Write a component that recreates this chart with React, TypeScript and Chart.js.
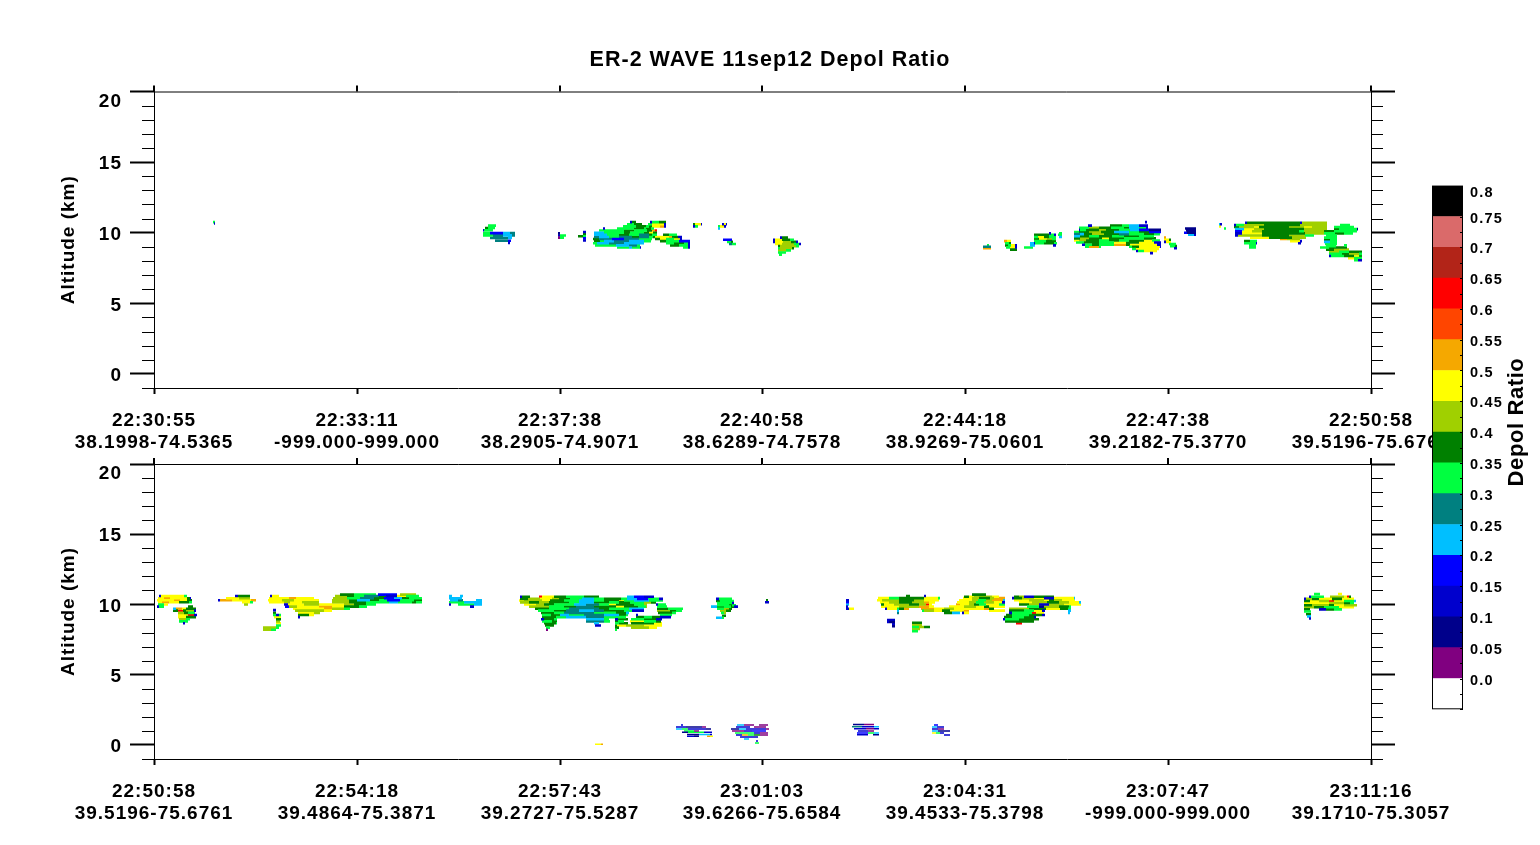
import React, { useEffect, useRef } from "react";
import { Chart, registerables } from "chart.js";

Chart.register(...registerables);

const FONT = "'Liberation Sans', Arial, sans-serif";

const chartTitle = "ER-2 WAVE 11sep12 Depol Ratio";
const colorbarTitle = "Depol Ratio";
const altitudeTitle = "Altitude (km)";

const binColors = ["#ffffff", "#800080", "#00008b", "#0000cd", "#0000ff", "#00bfff", "#008080", "#00ff40", "#008000", "#a0d000", "#ffff00", "#f5a800", "#ff4500", "#ff0000", "#b22418", "#da6a6a", "#000000"];
const binLower = [-0.05, 0, 0.05, 0.1, 0.15, 0.2, 0.25, 0.3, 0.35, 0.4, 0.45, 0.5, 0.55, 0.6, 0.65, 0.7, 0.75];
const binUpper = [0, 0.05, 0.1, 0.15, 0.2, 0.25, 0.3, 0.35, 0.4, 0.45, 0.5, 0.55, 0.6, 0.65, 0.7, 0.75, 0.8];
const colorTickValues = [0, 0.05, 0.1, 0.15, 0.2, 0.25, 0.3, 0.35, 0.4, 0.45, 0.5, 0.55, 0.6, 0.65, 0.7, 0.75, 0.8];
const colorTickLabels = ["0.0", "0.05", "0.1", "0.15", "0.2", "0.25", "0.3", "0.35", "0.4", "0.45", "0.5", "0.55", "0.6", "0.65", "0.7", "0.75", "0.8"];

const profileTicks = [0, 203, 406, 608, 811, 1014, 1217];
const altitudeTicks = [0, 5, 10, 15, 20];
const altitudeMinor = [-1, 1, 2, 3, 4, 6, 7, 8, 9, 11, 12, 13, 14, 16, 17, 18, 19];

const topTimes = ["22:30:55", "22:33:11", "22:37:38", "22:40:58", "22:44:18", "22:47:38", "22:50:58"];
const topCoords = ["38.1998-74.5365", "-999.000-999.000", "38.2905-74.9071", "38.6289-74.7578", "38.9269-75.0601", "39.2182-75.3770", "39.5196-75.6761"];
const bottomTimes = ["22:50:58", "22:54:18", "22:57:43", "23:01:03", "23:04:31", "23:07:47", "23:11:16"];
const bottomCoords = ["39.5196-75.6761", "39.4864-75.3871", "39.2727-75.5287", "39.6266-75.6584", "39.4533-75.3798", "-999.000-999.000", "39.1710-75.3057"];

// Each row: altitude km, then profile, bin, profile, bin, ... profile.
const topRowsWest = [
  [10.75, 59, 7, 61], [10.65, 60, 3, 61],
  [10.5, 334, 7, 342], [10.33, 331, 8, 334, 7, 341], [10.17, 329, 3, 330, 7, 339],
  [9.97, 329, 7, 336, 4, 349, 5, 356, 6, 361], [9.81, 329, 7, 339, 6, 349, 5, 358, 6, 361],
  [9.62, 336, 6, 354, 5, 358], [9.43, 341, 6, 354, 4, 357], [9.27, 354, 3, 356],
  [9.95, 404, 2, 406], [9.8, 404, 3, 406, 7, 412], [9.65, 404, 1, 406, 7, 410],
  [10.05, 429, 3, 432], [9.9, 429, 8, 432], [9.75, 424, 8, 429, 7, 432], [9.6, 429, 4, 432], [9.45, 429, 3, 432],
  [10.75, 476, 3, 478, 8, 482], [10.75, 496, 3, 498, 7, 505, 8, 512],
  [10.6, 473, 7, 480, 8, 488], [10.6, 494, 7, 498, 10, 510, 3, 512],
  [10.45, 469, 7, 482, 8, 492, 7, 495, 8, 498, 10, 506, 11, 510, 3, 512],
  [10.3, 449, 3, 451], [10.3, 463, 7, 480, 8, 490, 7, 492, 8, 497, 7, 500],
  [10.15, 445, 7, 470, 8, 480, 7, 493, 8, 498, 11, 501, 13, 503],
  [10.0, 440, 5, 450, 7, 470, 8, 476, 7, 490, 8, 495, 10, 499, 8, 503],
  [9.85, 440, 5, 453, 7, 465, 8, 475, 7, 485, 6, 495, 8, 498, 7, 503], [9.85, 509, 8, 515, 7, 523],
  [9.7, 440, 6, 445, 5, 455, 7, 465, 6, 478, 8, 485, 6, 495, 7, 499], [9.7, 499, 8, 501, 10, 515, 11, 518, 8, 524, 3, 528],
  [9.55, 439, 8, 445, 6, 458, 4, 470, 6, 485, 7, 498], [9.55, 501, 8, 506, 10, 512, 7, 520, 10, 526, 3, 528],
  [9.4, 440, 8, 446, 7, 450, 5, 460, 6, 475, 5, 490, 7, 497], [9.4, 506, 8, 512, 7, 525, 4, 536],
  [9.25, 439, 7, 443, 5, 455, 6, 470, 5, 490], [9.25, 512, 7, 520, 8, 530, 7, 534, 3, 536],
  [9.1, 441, 7, 462, 5, 475, 6, 483, 7, 486], [9.1, 516, 8, 525, 7, 534, 3, 536],
  [8.95, 463, 7, 475, 5, 478, 7, 486, 3, 487], [8.95, 529, 7, 534, 3, 536],
  [10.6, 539, 8, 541, 10, 547, 3, 548], [10.45, 539, 3, 541, 7, 544],
  [10.6, 568, 3, 570, 10, 572, 3, 573], [10.45, 564, 7, 566, 10, 570, 3, 572], [10.3, 564, 5, 566],
  [9.5, 569, 4, 578], [9.35, 573, 7, 577, 8, 579], [9.2, 575, 6, 578, 7, 582],
  [9.65, 626, 3, 628, 8, 634], [9.5, 619, 3, 621, 10, 628, 8, 636, 7, 640], [9.35, 619, 3, 621, 10, 629, 9, 637, 8, 642, 3, 644],
  [9.2, 621, 10, 628, 9, 640, 7, 645, 3, 647], [9.05, 624, 8, 626, 9, 642, 7, 645], [8.9, 624, 7, 626, 9, 638, 8, 640],
  [8.75, 624, 9, 632, 7, 637], [8.6, 624, 7, 632], [8.45, 625, 7, 628],
];

const topRowsEast = [
  [9.1, 833, 7, 835], [9.0, 829, 6, 837], [8.9, 829, 11, 837],
  [9.4, 850, 11, 853, 10, 857], [9.25, 851, 7, 855, 8, 857], [9.1, 851, 8, 854, 7, 857, 10, 861, 3, 863], [8.95, 852, 7, 856, 10, 861, 3, 863], [8.8, 856, 8, 863],
  [9.95, 895, 3, 897], [9.95, 905, 7, 908], [9.85, 880, 8, 895, 7, 900, 3, 902], [9.85, 904, 7, 908],
  [9.7, 880, 7, 884, 10, 890, 8, 895, 7, 902], [9.7, 905, 5, 908], [9.55, 880, 8, 885, 10, 893, 9, 898, 7, 902], [9.4, 880, 7, 892, 8, 902],
  [9.25, 876, 5, 880, 3, 881, 7, 890, 8, 900, 7, 903], [9.1, 876, 5, 881], [9.1, 899, 3, 902], [8.95, 870, 7, 879],
  [10.75, 991, 3, 993], [10.5, 934, 3, 938], [10.5, 956, 8, 968, 7, 975, 5, 985, 3, 994],
  [10.35, 925, 7, 935, 9, 945, 8, 957, 7, 970, 8, 975, 5, 985, 7, 992, 3, 994],
  [10.2, 925, 3, 926, 7, 932, 8, 945, 9, 952, 8, 965, 7, 976, 5, 985, 4, 995, 2, 1007],
  [10.05, 920, 7, 925, 8, 935, 9, 947, 8, 960, 5, 975, 7, 985, 8, 995, 4, 1007],
  [9.9, 920, 6, 926, 5, 930, 8, 938, 9, 950, 8, 965, 6, 975, 7, 990, 8, 1000, 7, 1006],
  [9.75, 920, 5, 926, 8, 935, 7, 945, 8, 958, 7, 970, 8, 985, 7, 1000],
  [9.6, 920, 8, 926, 9, 935, 8, 948, 10, 955, 8, 970, 7, 990, 8, 1002],
  [9.45, 920, 10, 925, 9, 932, 8, 945, 7, 955, 8, 965, 7, 975, 8, 990, 10, 998, 7, 1006],
  [9.3, 922, 7, 930, 8, 945, 7, 960, 10, 972, 8, 985, 10, 1000, 3, 1007],
  [9.15, 928, 3, 931, 7, 938, 8, 945, 7, 960, 11, 972, 8, 976, 10, 1003, 3, 1007],
  [9.0, 931, 7, 935, 11, 945, 7, 947], [9.0, 975, 7, 978, 8, 985, 10, 1006, 3, 1007],
  [8.85, 978, 7, 982, 10, 1005], [8.7, 982, 3, 984, 7, 990, 10, 1003], [8.55, 996, 3, 999],
  [9.65, 1010, 11, 1012], [9.5, 1010, 10, 1015, 8, 1017], [9.35, 1010, 3, 1012, 10, 1017], [9.2, 1015, 7, 1022], [9.05, 1016, 7, 1021, 8, 1023], [8.9, 1020, 3, 1023],
  [10.3, 1031, 2, 1042], [10.15, 1032, 2, 1042], [10.0, 1030, 4, 1033, 2, 1042], [9.85, 1034, 5, 1040, 3, 1042],
  [10.6, 1065, 5, 1066, 3, 1068], [10.45, 1065, 10, 1067], [10.3, 1070, 7, 1072],
  [10.7, 1091, 3, 1093, 8, 1115, 8, 1146, 3, 1148, 9, 1173],
  [10.55, 1080, 3, 1082, 7, 1090, 9, 1110, 8, 1146, 9, 1173], [10.55, 1186, 7, 1196],
  [10.4, 1080, 8, 1085, 9, 1100, 10, 1105, 8, 1135, 9, 1150, 10, 1158, 9, 1173], [10.4, 1180, 7, 1200],
  [10.25, 1081, 5, 1090, 10, 1100, 9, 1110, 8, 1150, 9, 1173], [10.25, 1180, 8, 1185, 7, 1203, 2, 1204],
  [10.1, 1081, 4, 1088, 10, 1098, 9, 1108, 8, 1145, 7, 1150, 9, 1170, 8, 1180, 7, 1203],
  [9.95, 1081, 3, 1088, 10, 1108, 8, 1151, 9, 1170, 7, 1181, 8, 1190, 7, 1199],
  [9.8, 1081, 3, 1084, 9, 1108, 8, 1135, 9, 1151, 7, 1160], [9.8, 1172, 7, 1183],
  [9.65, 1096, 10, 1115, 8, 1138, 9, 1152], [9.65, 1170, 7, 1183],
  [9.55, 1126, 11, 1133, 9, 1146], [9.5, 1170, 8, 1176, 7, 1183],
  [9.4, 1090, 8, 1096, 7, 1103], [9.4, 1136, 10, 1146, 3, 1148], [9.35, 1170, 5, 1176, 7, 1183],
  [9.25, 1090, 7, 1102, 3, 1103], [9.25, 1144, 3, 1147], [9.2, 1171, 7, 1183],
  [9.1, 1095, 7, 1102], [9.1, 1190, 7, 1193], [9.05, 1172, 7, 1182],
  [8.95, 1095, 7, 1102], [8.95, 1166, 7, 1175, 8, 1193],
  [8.8, 1172, 8, 1180, 9, 1195], [8.65, 1175, 9, 1185, 7, 1195, 8, 1208], [8.5, 1175, 7, 1188, 8, 1195, 9, 1205, 7, 1208],
  [8.35, 1175, 3, 1177, 7, 1190, 8, 1200, 10, 1205, 8, 1208], [8.2, 1194, 10, 1200, 7, 1208], [8.05, 1200, 7, 1204, 3, 1208],
];

const bottomRowsWest = [
  [10.6, 5, 3, 7, 10, 30, 7, 33], [10.44, 4, 10, 10, 11, 16, 10, 33, 8, 36, 3, 37], [10.3, 3, 10, 20, 11, 26, 10, 33, 8, 38],
  [10.16, 4, 10, 8, 11, 15, 10, 25, 8, 35, 7, 38], [10.0, 4, 7, 10, 10, 14], [9.85, 3, 3, 5, 7, 10], [9.85, 34, 8, 39],
  [9.7, 19, 5, 22, 11, 28, 10, 32, 8, 42], [9.56, 19, 8, 24, 13, 29, 8, 32, 9, 40, 3, 42], [9.4, 24, 9, 30, 8, 34, 7, 41],
  [9.25, 24, 10, 34, 13, 40, 3, 43], [9.1, 24, 10, 32, 8, 42], [8.95, 25, 9, 32, 7, 36], [8.8, 25, 7, 34], [8.66, 29, 3, 31],
  [10.6, 81, 3, 84, 8, 96], [10.44, 72, 10, 85, 9, 96], [10.3, 64, 3, 66, 11, 78, 10, 97, 11, 102], [10.16, 88, 10, 96, 7, 99], [10.0, 90, 9, 94],
  [10.7, 186, 8, 200, 7, 222], [10.7, 224, 4, 243], [10.7, 246, 9, 262],
  [10.6, 116, 3, 118, 10, 125], [10.6, 181, 9, 193, 8, 200, 7, 210, 6, 225, 8, 232, 3, 243, 10, 252, 7, 265],
  [10.44, 115, 10, 135, 11, 142, 10, 160], [10.44, 179, 9, 193, 7, 206, 6, 220, 8, 230, 4, 240, 5, 248, 8, 255, 7, 268],
  [10.3, 114, 10, 128, 9, 140, 10, 165], [10.3, 178, 9, 195, 8, 203, 5, 216, 8, 225, 7, 233, 4, 246, 7, 260, 8, 268],
  [10.16, 115, 10, 130, 9, 136, 10, 148, 9, 165], [10.16, 178, 9, 195, 8, 212, 7, 235, 5, 244, 7, 258, 8, 262, 7, 268],
  [10.0, 130, 3, 134, 10, 150, 9, 165, 10, 190, 9, 200, 8, 212, 7, 222],
  [9.85, 131, 4, 135, 9, 143, 10, 165, 11, 178, 10, 190, 8, 205, 7, 213],
  [9.7, 139, 10, 170, 11, 178, 9, 190, 7, 196], [9.56, 141, 9, 170, 10, 178], [9.4, 144, 10, 160, 9, 166], [9.25, 144, 8, 155, 10, 160], [9.1, 144, 3, 146],
  [9.6, 119, 3, 122], [9.4, 119, 8, 122], [9.25, 119, 7, 122, 3, 125, 7, 127], [9.1, 120, 10, 127], [8.95, 122, 8, 127], [8.8, 122, 9, 126],
  [8.66, 122, 10, 127], [8.5, 122, 7, 127], [8.35, 109, 9, 122, 7, 125], [8.2, 109, 9, 117, 7, 122],
  [10.6, 295, 5, 298], [10.6, 306, 5, 309], [10.44, 295, 5, 308], [10.3, 296, 5, 304, 6, 309], [10.3, 322, 5, 328],
  [10.16, 295, 7, 310, 5, 318, 5, 328], [10.0, 295, 3, 297], [10.0, 304, 7, 320, 5, 328], [9.85, 316, 3, 320],
];

const bottomRowsMiddle = [
  [10.55, 366, 3, 368, 8, 376], [10.55, 385, 13, 388, 10, 400, 8, 412, 7, 430, 8, 445], [10.55, 473, 5, 480, 4, 490, 3, 500],
  [10.4, 366, 8, 374, 9, 386, 10, 398, 9, 405, 8, 416, 7, 428, 5, 440, 7, 450, 8, 467, 7, 473, 5, 483, 4, 494, 7, 505, 3, 509],
  [10.28, 365, 10, 370, 9, 388, 10, 396, 8, 410, 7, 425, 5, 440, 7, 450, 8, 465, 10, 470, 7, 480, 5, 495, 7, 509],
  [10.15, 366, 9, 375, 8, 385, 9, 395, 8, 415, 7, 425, 5, 440, 8, 455, 7, 465, 8, 476, 7, 490, 9, 497, 8, 502],
  [10.0, 370, 10, 382, 9, 390, 8, 400, 7, 420, 5, 432, 6, 445, 7, 455, 10, 462, 8, 480, 7, 490, 9, 493], [10.0, 502, 3, 504, 7, 512],
  [9.85, 375, 9, 395, 7, 410, 8, 422, 6, 440, 8, 462, 10, 470, 8, 484, 7, 492, 9, 493], [9.85, 503, 7, 513],
  [9.7, 381, 8, 395, 7, 415, 6, 445, 8, 455, 7, 475, 5, 490], [9.7, 503, 8, 514, 7, 529],
  [9.56, 384, 7, 400, 8, 412, 6, 425, 5, 440, 6, 450, 8, 470, 7, 478, 3, 490], [9.56, 503, 9, 516, 8, 522, 7, 528],
  [9.4, 387, 8, 400, 7, 410, 6, 440, 7, 462, 8, 472, 5, 475], [9.4, 504, 8, 518, 7, 522],
  [9.25, 388, 7, 397, 8, 406, 5, 415, 7, 430, 6, 450, 5, 465, 8, 472, 7, 474], [9.25, 482, 3, 484], [9.25, 506, 7, 518],
  [9.1, 388, 8, 402, 7, 412, 5, 432, 6, 450, 7, 472], [9.1, 482, 8, 490, 7, 498, 8, 506, 3, 517],
  [8.95, 387, 3, 390, 8, 400, 7, 403], [8.95, 432, 5, 450, 7, 455], [8.95, 461, 3, 464, 8, 474], [8.95, 477, 7, 490, 8, 502, 3, 508],
  [8.8, 388, 7, 398, 8, 403], [8.8, 432, 6, 450, 7, 456], [8.8, 461, 8, 464, 7, 470], [8.8, 476, 10, 490, 7, 502, 8, 507],
  [8.66, 390, 8, 402, 7, 403], [8.66, 440, 5, 445], [8.66, 461, 7, 465, 8, 474], [8.66, 477, 8, 500, 10, 508],
  [8.5, 391, 8, 400], [8.5, 441, 3, 447], [8.5, 461, 8, 463, 10, 472, 9, 490, 10, 508],
  [8.35, 392, 7, 396], [8.35, 461, 8, 465], [8.35, 477, 9, 495, 10, 503], [8.2, 392, 1, 394], [8.2, 461, 7, 463],
  [10.4, 562, 3, 565, 7, 578], [10.25, 562, 8, 566, 7, 580], [10.1, 563, 7, 578, 3, 580], [9.95, 563, 7, 575, 8, 578, 7, 582],
  [9.85, 557, 5, 563, 8, 570, 7, 577, 8, 580, 3, 584], [9.7, 563, 7, 570, 9, 575, 8, 578], [9.55, 566, 9, 572, 8, 577], [9.4, 567, 7, 570, 9, 572],
  [9.2, 568, 8, 572], [9.05, 562, 5, 568, 7, 570], [10.3, 612, 8, 614], [10.16, 611, 3, 615],
];

const bottomRowsEast = [
  [10.3, 692, 3, 695], [10.16, 692, 4, 695], [10.0, 692, 5, 695], [9.85, 692, 3, 694], [9.7, 692, 3, 695, 10, 700, 1, 701],
  [10.6, 752, 8, 756], [10.6, 770, 3, 772],
  [10.45, 724, 10, 735, 7, 745, 8, 770, 10, 784, 7, 786], [10.3, 723, 10, 728, 9, 745, 8, 760, 9, 770, 10, 785],
  [10.15, 726, 10, 735, 9, 745, 8, 758, 9, 770, 11, 775, 10, 781], [10.0, 727, 8, 730, 10, 740, 9, 755, 8, 765, 9, 772, 13, 775, 10, 778],
  [9.85, 727, 10, 745, 9, 765, 11, 775, 10, 780], [9.7, 731, 3, 733, 10, 745, 8, 750, 11, 755],
  [9.7, 743, 7, 745], [9.55, 743, 5, 745], [9.4, 743, 6, 745],
  [10.7, 818, 8, 832], [10.55, 810, 8, 815, 10, 820, 9, 838, 10, 845], [10.45, 809, 10, 818, 9, 825, 8, 836, 9, 840, 11, 851],
  [10.3, 805, 10, 818, 9, 824, 7, 832, 9, 838, 11, 849, 5, 851], [10.15, 803, 10, 815, 9, 822, 7, 830, 9, 840, 10, 848, 3, 851],
  [10.0, 802, 11, 806, 10, 815, 9, 820, 8, 825, 7, 832, 10, 845, 7, 851], [9.85, 795, 10, 810, 9, 822, 10, 830, 8, 835, 10, 851],
  [9.7, 767, 11, 780, 10, 790, 9, 800, 10, 830, 11, 835, 8, 840], [9.56, 768, 7, 770, 9, 780, 10, 788, 8, 796, 10, 810, 11, 815], [9.56, 835, 10, 851],
  [9.4, 790, 8, 798, 5, 806], [9.4, 808, 3, 810, 10, 815],
  [10.55, 860, 8, 865, 9, 870, 3, 880, 8, 900], [10.45, 858, 3, 860, 8, 868, 9, 880, 10, 890, 3, 900, 10, 920, 5, 921],
  [10.3, 860, 10, 875, 9, 890, 10, 895, 8, 900, 9, 908, 10, 921], [10.15, 865, 10, 878, 9, 893, 8, 905, 9, 915, 10, 925, 5, 927],
  [10.0, 865, 8, 875, 9, 885, 3, 895, 9, 910, 10, 927], [9.85, 873, 7, 885, 2, 890, 9, 905, 8, 915, 7, 917],
  [9.7, 855, 9, 875, 8, 892, 10, 906, 8, 914, 7, 917], [9.56, 855, 8, 870, 7, 880, 10, 888, 3, 891], [9.56, 914, 5, 917], [9.4, 914, 5, 916],
  [9.4, 855, 3, 858, 7, 878, 13, 882, 10, 890], [9.25, 852, 8, 858, 7, 875, 8, 888, 3, 891], [9.1, 850, 8, 858, 7, 870, 8, 880, 3, 882],
  [8.95, 849, 3, 851, 7, 865, 8, 885], [8.8, 851, 8, 858, 8, 880], [8.66, 862, 13, 868],
  [8.9, 733, 3, 741], [8.75, 733, 3, 735, 2, 741], [8.6, 738, 3, 741], [8.45, 738, 2, 741],
  [8.7, 758, 8, 768], [8.55, 758, 9, 768], [8.4, 758, 7, 765, 9, 770, 8, 776], [8.25, 758, 9, 766], [8.1, 758, 7, 764],
  [10.75, 1160, 7, 1166], [10.75, 1184, 10, 1188], [10.55, 1155, 3, 1157, 7, 1170], [10.55, 1176, 9, 1190, 10, 1193, 13, 1195, 8, 1197],
  [10.4, 1150, 3, 1152, 9, 1158, 8, 1165, 10, 1178, 8, 1188, 10, 1200], [10.25, 1150, 8, 1156, 10, 1165, 9, 1175, 13, 1180, 10, 1190, 7, 1200, 5, 1202],
  [10.1, 1150, 10, 1168, 10, 1175, 9, 1190, 8, 1196, 7, 1200], [9.95, 1150, 8, 1158, 9, 1175, 8, 1180, 10, 1190, 9, 1203],
  [9.8, 1150, 9, 1160, 8, 1170, 7, 1185, 10, 1200], [9.65, 1150, 8, 1156], [9.65, 1165, 3, 1172, 8, 1180, 7, 1188],
  [9.5, 1150, 7, 1157], [9.3, 1152, 8, 1157], [9.15, 1153, 5, 1157], [9.0, 1155, 3, 1157],
];

const bottomRowsLow = [
  [0.05, 441, 10, 447, 11, 449],
  [1.42, 527, 3, 529], [1.28, 522, 3, 532, 2, 548, 1, 552], [1.14, 522, 5, 528, 7, 534, 3, 552, 2, 557], [1.0, 530, 7, 540, 1, 545],
  [0.9, 528, 2, 534, 7, 550, 3, 558], [0.75, 533, 2, 545, 5, 556, 3, 558], [0.62, 533, 3, 540, 2, 545], [0.62, 553, 11, 556, 10, 559],
  [1.42, 583, 5, 590, 1, 600], [1.42, 605, 1, 614], [1.28, 582, 3, 596], [1.28, 600, 1, 612], [1.14, 577, 2, 585, 5, 592, 3, 600, 3, 612, 1, 615],
  [1.0, 578, 1, 590, 3, 598, 4, 612], [0.85, 581, 7, 600, 3, 606, 1, 614], [0.71, 582, 3, 588, 11, 594, 7, 600, 8, 606, 1, 614],
  [0.57, 586, 3, 604], [0.43, 590, 5, 595], [0.29, 602, 3, 604], [0.14, 601, 7, 605],
  [1.45, 699, 2, 710, 1, 720], [1.3, 698, 6, 708, 3, 720, 5, 725], [1.15, 700, 3, 712, 1, 720, 3, 725], [1.0, 704, 3, 714, 1, 720],
  [0.85, 703, 4, 714, 7, 720, 5, 725], [0.72, 703, 3, 714], [0.72, 719, 2, 725],
  [1.42, 780, 4, 784], [1.28, 778, 5, 783, 3, 790], [1.14, 778, 3, 784, 1, 790], [1.0, 778, 5, 784, 2, 796], [0.85, 778, 10, 782, 7, 786, 3, 790], [0.71, 790, 3, 796],
];

function runsToDatasets(rows: number[][], lineWidth: number) {
  return binColors.map((color, bin) => {
    const data: { x: number; y: number }[] = [];
    rows.forEach((row) => {
      for (let i = 1; i + 2 < row.length; i += 2) {
        if (row[i + 1] === bin) {
          data.push({ x: row[i], y: row[0] }, { x: row[i + 2], y: row[0] }, { x: row[i + 2], y: NaN });
        }
      }
    });
    return {
      label: colorTickLabels[bin],
      data,
      showLine: true,
      spanGaps: false,
      pointRadius: 0,
      borderColor: color,
      borderWidth: lineWidth,
      borderCapStyle: "butt",
      tension: 0,
    };
  });
}

const spacingPlugin = (spacing: string) => ({
  id: "spacing",
  beforeLayout(chart: any) {
    chart.ctx.letterSpacing = spacing;
  },
  beforeDraw(chart: any) {
    chart.ctx.letterSpacing = spacing;
  },
});

const framePlugin = {
  id: "frame",
  beforeDraw(chart: any) {
    const y = chart.scales.y;
    y.getLabelItems().forEach((item: any, i: number) => {
      item.options.translation[1] += altitudeTicks[i] === 20 ? 10 : 2;
    });
  },
  afterDatasetsDraw(chart: any) {
    const { ctx, chartArea: a, scales } = chart;
    const y = scales.y;
    const x = scales.x;
    ctx.save();
    ctx.strokeStyle = "#000";
    ctx.lineWidth = 1;
    ctx.beginPath();
    ctx.moveTo(a.left, a.top + 0.5);
    ctx.lineTo(a.right, a.top + 0.5);
    altitudeMinor.forEach((v) => {
      const p = Math.round(y.getPixelForValue(v)) + 0.5;
      ctx.moveTo(a.left - 12, p);
      ctx.lineTo(a.left, p);
      ctx.moveTo(a.right, p);
      ctx.lineTo(a.right + 12, p);
    });
    ctx.stroke();
    ctx.lineWidth = 2;
    ctx.beginPath();
    profileTicks.forEach((v) => {
      const p = Math.round(x.getPixelForValue(v));
      ctx.moveTo(p, a.top);
      ctx.lineTo(p, a.top - 6);
    });
    ctx.stroke();
    ctx.restore();
  },
};

function panelOptions(times: string[], coords: string[], xHeight: number, padding: any, title: any) {
  return {
    responsive: false,
    animation: false,
    devicePixelRatio: 1,
    layout: { padding },
    plugins: { legend: { display: false }, tooltip: { enabled: false }, title },
    scales: {
      x: {
        type: "linear",
        min: 0,
        max: 1217,
        afterBuildTicks(scale: any) {
          scale.ticks = profileTicks.map((value) => ({ value }));
        },
        afterFit(scale: any) {
          scale.height = xHeight;
        },
        grid: { drawOnChartArea: false, tickLength: 6, tickWidth: 2, tickColor: "#000" },
        border: { color: "#000", width: 1 },
        ticks: {
          autoSkip: false,
          maxRotation: 0,
          padding: 16,
          color: "#000",
          font: { family: FONT, size: 19, weight: "bold", lineHeight: 22 / 19 },
          callback: (_v: number, i: number) => [times[i], coords[i]],
        },
      },
      y: {
        type: "linear",
        min: -1,
        max: 20,
        afterBuildTicks(scale: any) {
          scale.ticks = altitudeTicks.map((value) => ({ value }));
        },
        afterFit(scale: any) {
          scale.width = 154;
        },
        title: {
          display: true,
          text: altitudeTitle,
          color: "#000",
          padding: { top: 57, bottom: 0 },
          font: { family: FONT, size: 19, weight: "bold" },
        },
        grid: { drawOnChartArea: false, tickLength: 24, tickWidth: 2, tickColor: "#000" },
        border: { color: "#000", width: 1 },
        ticks: {
          autoSkip: false,
          padding: 8,
          color: "#000",
          font: { family: FONT, size: 19, weight: "bold" },
          callback: (v: number) => String(v),
        },
      },
      yRight: {
        type: "linear",
        position: "right",
        min: -1,
        max: 20,
        afterBuildTicks(scale: any) {
          scale.ticks = altitudeTicks.map((value) => ({ value }));
        },
        afterFit(scale: any) {
          scale.width = 169;
        },
        grid: { drawOnChartArea: false, tickLength: 24, tickWidth: 2, tickColor: "#000" },
        border: { color: "#000", width: 1 },
        ticks: { display: false },
      },
    },
  };
}

const colorbarPlugin = {
  id: "colorbarFrame",
  beforeDraw(chart: any) {
    chart.scales.y.getLabelItems().forEach((item: any, i: number) => {
      item.options.translation[1] += colorTickValues[i] === 0.8 ? 7 : 2;
    });
  },
  afterDatasetsDraw(chart: any) {
    const { ctx, chartArea: a, scales } = chart;
    ctx.save();
    ctx.strokeStyle = "#000";
    ctx.lineWidth = 1;
    ctx.strokeRect(a.left + 0.5, a.top + 0.5, a.right - a.left - 1, a.bottom - a.top - 1);
    ctx.beginPath();
    binLower.forEach((low, i) => {
      [low, (low + binUpper[i]) / 2].forEach((v) => {
        const p = Math.round(scales.y.getPixelForValue(v)) + 0.5;
        ctx.moveTo(a.right - 3, p);
        ctx.lineTo(a.right, p);
      });
    });
    ctx.stroke();
    ctx.translate(1517 - chart.canvas.offsetLeft, 422 - chart.canvas.offsetTop);
    ctx.rotate(-Math.PI / 2);
    ctx.font = `bold 22px ${FONT}`;
    ctx.letterSpacing = "0.6px";
    ctx.textAlign = "center";
    ctx.textBaseline = "middle";
    ctx.fillStyle = "#000";
    ctx.fillText(colorbarTitle, 0, 0);
    ctx.restore();
  },
};

export default function App() {
  const topRef = useRef<HTMLCanvasElement>(null);
  const bottomRef = useRef<HTMLCanvasElement>(null);
  const barRef = useRef<HTMLCanvasElement>(null);

  useEffect(() => {
    const top = new Chart(topRef.current as any, {
      type: "scatter",
      data: { datasets: runsToDatasets([...topRowsWest, ...topRowsEast], 2.6) as any },
      options: panelOptions(topTimes, topCoords, 72, {}, {
        display: true,
        text: chartTitle,
        color: "#000",
        padding: { top: 49, bottom: 21 },
        font: { family: FONT, size: 21.5, weight: "bold", lineHeight: 1 },
      }) as any,
      plugins: [spacingPlugin("1px"), framePlugin],
    });
    const bottom = new Chart(bottomRef.current as any, {
      type: "scatter",
      data: {
        datasets: [
          ...runsToDatasets([...bottomRowsWest, ...bottomRowsMiddle, ...bottomRowsEast], 2.6),
          ...runsToDatasets(bottomRowsLow, 1.5),
        ] as any,
      },
      options: panelOptions(bottomTimes, bottomCoords, 86, { top: 24 }, { display: false }) as any,
      plugins: [spacingPlugin("1px"), framePlugin],
    });
    const bar = new Chart(barRef.current as any, {
      type: "bar",
      data: {
        labels: [colorbarTitle],
        datasets: binColors.map((color, i) => ({
          label: colorTickLabels[i],
          data: [[binLower[i], binUpper[i]]],
          backgroundColor: color,
          grouped: false,
          barPercentage: 1,
          categoryPercentage: 1,
        })) as any,
      },
      options: {
        responsive: false,
        animation: false,
        devicePixelRatio: 1,
        layout: { padding: { left: 7, top: 15, bottom: 6 } },
        plugins: { legend: { display: false }, tooltip: { enabled: false } },
        scales: {
          x: { display: false },
          y: {
            type: "linear",
            position: "right",
            min: -0.05,
            max: 0.8,
            afterBuildTicks(scale: any) {
              scale.ticks = colorTickValues.map((value) => ({ value }));
            },
            afterFit(scale: any) {
              scale.width = 77;
            },
            grid: { drawOnChartArea: false, drawTicks: false },
            border: { display: false },
            ticks: {
              autoSkip: false,
              padding: 7,
              color: "#000",
              font: { family: FONT, size: 14.5, weight: "bold" },
              callback: (_v: number, i: number) => colorTickLabels[i],
            },
          },
        },
      } as any,
      plugins: [spacingPlugin("1.2px"), colorbarPlugin],
    });
    return () => {
      top.destroy();
      bottom.destroy();
      bar.destroy();
    };
  }, []);

  const base: React.CSSProperties = { position: "absolute", display: "block" };
  return (
    <div>
      <canvas ref={topRef} width={1540} height={460} style={{ ...base, left: 0, top: 0, width: 1540, height: 460 }} />
      <canvas ref={bottomRef} width={1540} height={405} style={{ ...base, left: 0, top: 440, width: 1540, height: 405 }} />
      <canvas ref={barRef} width={115} height={555} style={{ ...base, left: 1425, top: 170, width: 115, height: 555 }} />
    </div>
  );
}
